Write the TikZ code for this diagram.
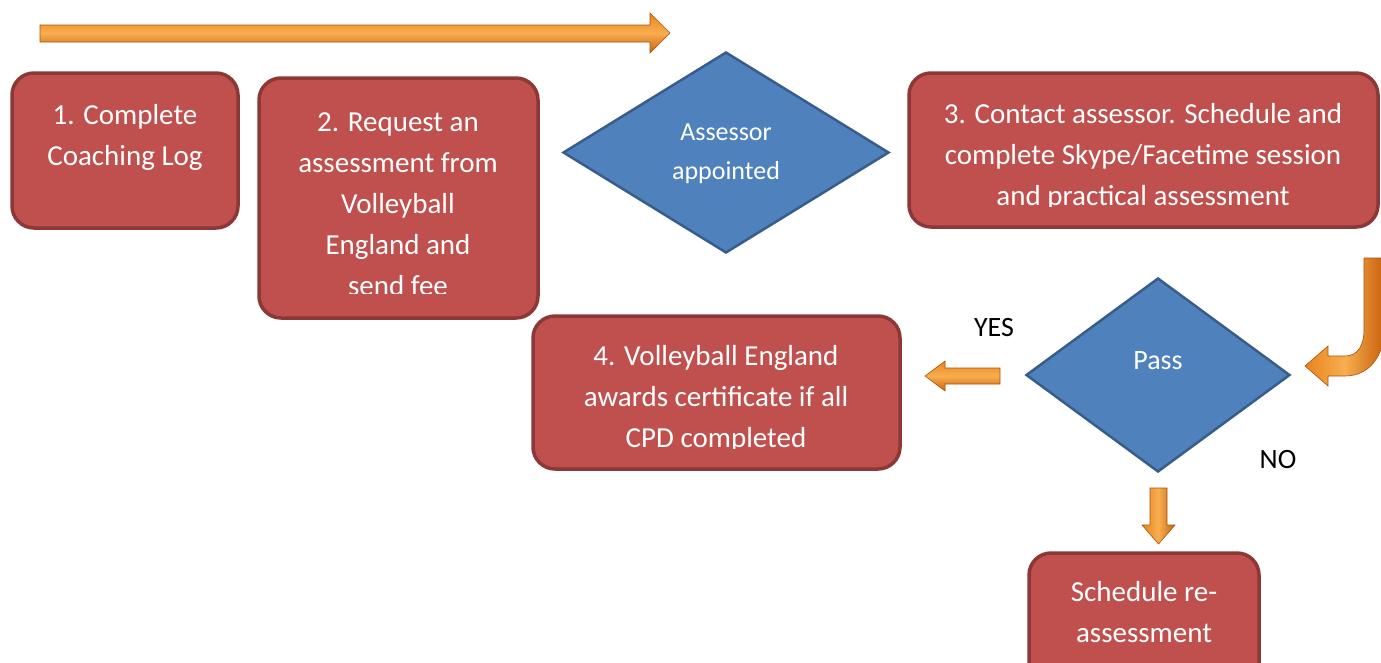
\documentclass[tikz,border=0pt]{standalone}
\usepackage{fontspec}
\setmainfont{Carlito}
\usetikzlibrary{shapes.geometric}
\definecolor{boxred}{HTML}{C0504D}
\definecolor{boxedge}{HTML}{8C3836}
\definecolor{diablue}{HTML}{4F81BD}
\definecolor{diaedge}{HTML}{385D8A}
\definecolor{orA}{HTML}{E8841E}
\definecolor{orB}{HTML}{F8AE50}
\definecolor{orC}{HTML}{C9610D}
\tikzset{
  stepbox/.style={draw=boxedge, line width=3.5pt, fill=boxred, rounded corners=22pt, inner sep=0pt},
  boxtext/.style={text=white, align=center, font=\fontsize{29}{41}\selectfont, inner sep=0pt},
  decision/.style={diamond, draw=diaedge, line width=2.5pt, fill=diablue, inner sep=0pt},
  lbl/.style={text=black, font=\fontsize{28}{30}\selectfont, inner sep=0pt},
  harrow/.style={draw=orC!85!black, line width=0.6pt, top color=orA, bottom color=orC, middle color=orB},
  varrow/.style={draw=orC!85!black, line width=0.6pt, left color=orA, right color=orC, middle color=orB},
}
\begin{document}
\begin{tikzpicture}[x=1pt,y=-1pt]
\useasboundingbox (0,0) rectangle (1381,662);
\clip (0,0) rectangle (1381,662);
% boxes
\node[stepbox, minimum width=226pt, minimum height=155pt] (s1) at (125,150.5) {};
\node[boxtext] (t1) at (125,137) {1. Complete\\Coaching Log};
\node[stepbox, minimum width=279pt, minimum height=240pt] (s2) at (398.5,198) {};
\begin{scope}
\clip (262,82) rectangle (535,293);
\node[boxtext] (t2) at (398,204) {2. Request an\\assessment from\\Volleyball\\England and\\send fee};
\end{scope}
\node[decision, minimum width=326pt, minimum height=201pt] (d1) at (726,152.5) {};
\node[text=white, align=center, font=\fontsize{26}{39}\selectfont, inner sep=0pt] (t3) at (726,154) {Assessor\\appointed};
\node[stepbox, minimum width=469pt, minimum height=154pt] (s3) at (1143.5,150) {};
\begin{scope}
\clip (912,76) rectangle (1375,206);
\node[boxtext] (t4) at (1143,157) {3. Contact assessor. Schedule and\\complete Skype/Facetime session\\and practical assessment};
\end{scope}
\node[decision, minimum width=264pt, minimum height=194pt] (d2) at (1158,375) {};
\node[text=white, font=\fontsize{28}{30}\selectfont, inner sep=0pt] (t5) at (1158,361) {Pass};
\node[stepbox, minimum width=367pt, minimum height=153pt] (s4) at (716.5,392.5) {};
\begin{scope}
\clip (536,319) rectangle (897,448);
\node[boxtext] (t6) at (716,399) {4. Volleyball England\\awards certificate if all\\CPD completed};
\end{scope}
\node[stepbox, minimum width=230pt, minimum height=150pt] (s5) at (1144,628) {};
\node[boxtext] (t7) at (1144,612) {Schedule re-\\assessment};
\node[lbl] (yes) at (994,328) {YES};
\node[lbl] (no) at (1278,460) {NO};
% top arrow
\draw[harrow] (40,25) -- (650,25) -- (650,13) -- (670,33) -- (650,53) -- (650,42) -- (40,42) -- cycle;
% left arrow (Pass -> YES -> box 4)
\draw[harrow] (1000,368) -- (945,368) -- (945,361) -- (925,376) -- (945,391) -- (945,384) -- (1000,384) -- cycle;
% down arrow (Pass -> NO -> re-assessment)
\draw[varrow] (1150,488) -- (1167,488) -- (1167,525) -- (1175,525) -- (1158.5,544) -- (1142,525) -- (1150,525) -- cycle;
% curved arrow (box 3 -> Pass)
\draw[varrow] (1384,258) -- (1384,330) .. controls (1384,355) and (1370,376) .. (1345,376)
  -- (1328,376) -- (1328,386) -- (1305,366) -- (1328,346) -- (1328,356) -- (1345,356)
  .. controls (1358,356) and (1364,345) .. (1364,330) -- (1364,258) -- cycle;
\end{tikzpicture}
\end{document}
